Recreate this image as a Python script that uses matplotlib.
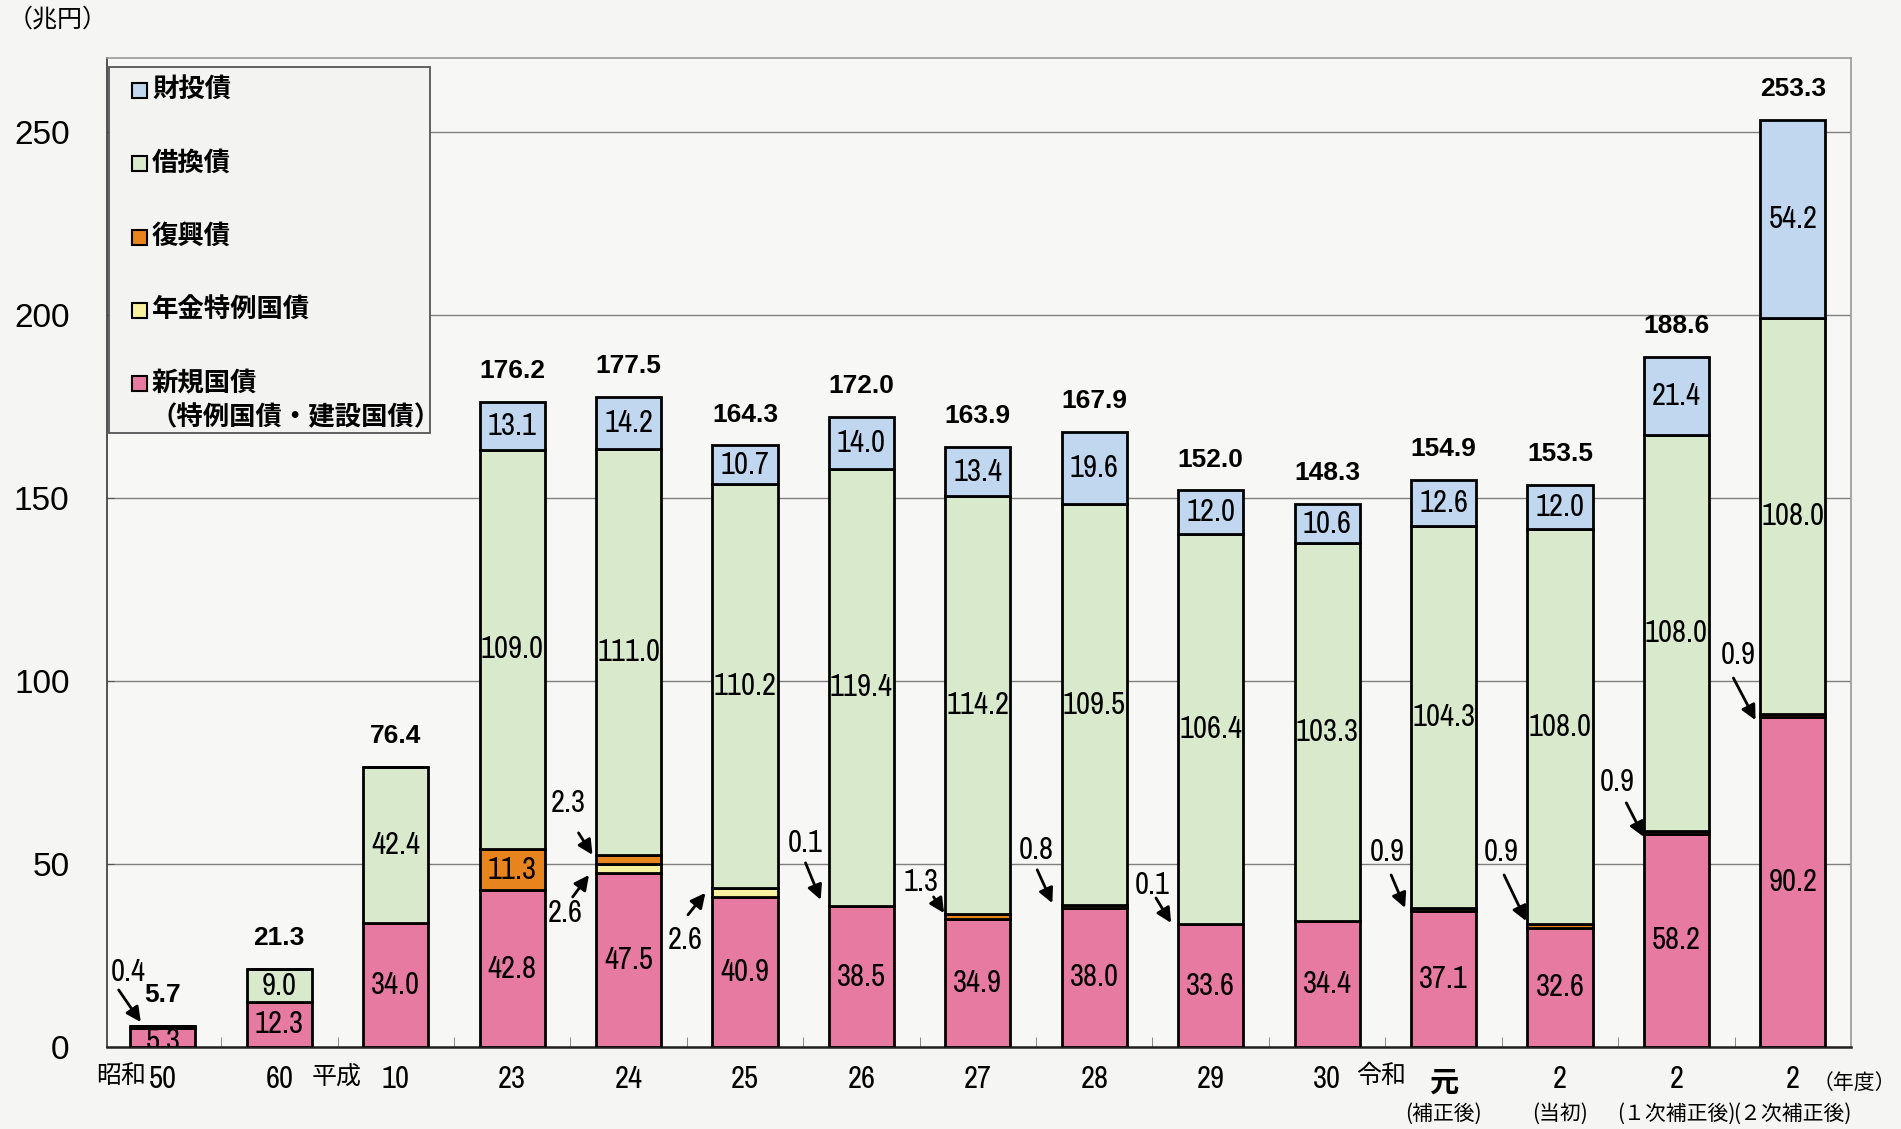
import numpy as np
import matplotlib
matplotlib.use('Agg')
import matplotlib.pyplot as plt
from matplotlib import font_manager
from matplotlib.patches import Rectangle

installed = {f.name for f in font_manager.fontManager.ttflist}
NUM = next((f for f in ['Liberation Sans Narrow', 'Archivo Narrow', 'Roboto Condensed']
            if f in installed), 'Liberation Sans')
JP = 'Noto Sans CJK JP'
plt.rcParams['font.family'] = [JP, 'DejaVu Sans']

# 年度ラベル
years = ['50', '60', '10', '23', '24', '25', '26', '27', '28', '29', '30', '元', '2', '2', '2']
notes = ['', '', '', '', '', '', '', '', '', '', '', '(補正後)', '(当初)', '(１次補正後)', '(２次補正後)']

# 発行額（兆円）
shinki = [5.3, 12.3, 34.0, 42.8, 47.5, 40.9, 38.5, 34.9, 38.0, 33.6, 34.4, 37.1, 32.6, 58.2, 90.2]
nenkin = [0, 0, 0, 0, 2.6, 2.6, 0, 0, 0, 0, 0, 0, 0, 0, 0]
fukko = [0, 0, 0, 11.3, 2.3, 0, 0.1, 1.3, 0.8, 0.1, 0, 0.9, 0.9, 0.9, 0.9]
karikae = [0.4, 9.0, 42.4, 109.0, 111.0, 110.2, 119.4, 114.2, 109.5, 106.4, 103.3, 104.3, 108.0, 108.0, 108.0]
zaito = [0, 0, 0, 13.1, 14.2, 10.7, 14.0, 13.4, 19.6, 12.0, 10.6, 12.6, 12.0, 21.4, 54.2]
totals = [5.7, 21.3, 76.4, 176.2, 177.5, 164.3, 172.0, 163.9, 167.9, 152.0, 148.3, 154.9, 153.5, 188.6, 253.3]

series = [
    ('新規国債', shinki, '#e77aa0'),
    ('年金特例国債', nenkin, '#f7f1a0'),
    ('復興債', fukko, '#e8841e'),
    ('借換債', karikae, '#d9eacc'),
    ('財投債', zaito, '#c0d7ef'),
]

# 小さい内訳は矢印で示す: (棒, 系列, 文字位置, 矢印の始点, 矢印の先)
callouts = [
    (0, 3, (-0.30, 20.5), (-0.38, 15.6), (-0.19, 6.8)),
    (4, 2, (3.48, 66.7), (3.57, 58.5), (3.69, 52.5)),
    (4, 1, (3.46, 36.6), (3.52, 41.0), (3.66, 47.0)),
    (5, 1, (4.49, 29.2), (4.51, 36.1), (4.66, 42.1)),
    (6, 2, (5.52, 55.7), (5.52, 50.3), (5.65, 40.2)),
    (7, 2, (6.51, 45.1), (6.62, 41.0), (6.71, 36.6)),
    (8, 2, (7.50, 53.8), (7.51, 48.4), (7.64, 39.3)),
    (9, 2, (8.50, 44.3), (8.53, 40.7), (8.66, 33.9)),
    (11, 2, (10.52, 53.3), (10.55, 47.0), (10.67, 38.0)),
    (12, 2, (11.50, 53.3), (11.52, 47.0), (11.71, 34.4)),
    (13, 2, (12.49, 72.4), (12.57, 66.7), (12.72, 57.4)),
    (14, 2, (13.53, 107.1), (13.49, 100.8), (13.68, 89.3)),
]

W, H = 1901, 1129
fig = plt.figure(figsize=(W / 100, H / 100), dpi=100, facecolor='#f5f5f3')
ax = fig.add_axes([107 / W, (H - 1047) / H, 1744 / W, 989 / H])
ax.set_facecolor('#f7f7f6')

x = np.arange(len(years))
bottom = np.zeros(len(years))
for k, (name, vals, col) in enumerate(series):
    vals = np.array(vals)
    ax.bar(x, vals, 0.56, bottom=bottom, color=col, edgecolor='black', linewidth=2, zorder=3)
    for i in range(len(x)):
        if vals[i] >= 5:
            yc = bottom[i] + vals[i] / 2
            if i == 0 and k == 0:
                yc = 1.6
            ax.text(x[i], yc, f'{vals[i]:.1f}', ha='center', va='center', fontsize=22,
                    family=NUM, zorder=5, clip_on=True)
    bottom += vals

for i, t in enumerate(totals):
    ax.text(x[i], t + 8.5, f'{t:.1f}', ha='center', va='center', fontsize=19,
            family='Liberation Sans', fontweight='bold', zorder=5)

for i, k, txy, tail, tip in callouts:
    v = series[k][1][i]
    ax.text(txy[0], txy[1], f'{v:.1f}', ha='center', va='center', fontsize=22, family=NUM, zorder=5)
    ax.annotate('', xy=tip, xytext=tail,
                arrowprops=dict(arrowstyle='-|>', color='black', lw=2, mutation_scale=22,
                                shrinkA=0, shrinkB=0), zorder=5)

ax.set_xlim(-0.48, 14.5)
ax.set_ylim(0, 270.2)
ax.set_yticks(range(0, 251, 50))
ax.set_yticklabels([str(v) for v in range(0, 251, 50)], family='Liberation Sans', fontsize=24)
ax.tick_params(axis='y', direction='in', length=5, pad=27, color='#555')
ax.set_xticks([])
ax.set_xticks(x[:-1] + 0.5, minor=True)
ax.tick_params(axis='x', which='minor', direction='in', length=7, color='#777')
ax.grid(axis='y', color='#808080', linewidth=1)
ax.set_axisbelow(True)
for s in ['top', 'right']:
    ax.spines[s].set_color('#999')
    ax.spines[s].set_linewidth(1.2)
ax.spines['left'].set_color('#444')
ax.spines['left'].set_linewidth(1.3)
ax.spines['bottom'].set_color('#222')
ax.spines['bottom'].set_linewidth(1.8)

# 横軸ラベル
for i, lab in enumerate(years):
    if lab == '元':
        ax.text(x[i], -9.6, lab, ha='center', va='center', fontsize=21, fontweight='bold',
                clip_on=False)
    else:
        ax.text(x[i], -8.7, lab, ha='center', va='center', fontsize=22, family=NUM,
                clip_on=False)
    if notes[i]:
        ax.text(x[i], -18.2, notes[i], ha='center', va='center', fontsize=15, clip_on=False)
for era, ex in [('昭和', -0.36), ('平成', 1.49), ('令和', 10.46)]:
    ax.text(ex, -8.0, era, ha='center', va='center', fontsize=18, clip_on=False)
fig.text(1896 / W, 1 - 1083 / H, '（年度）', ha='right', va='center', fontsize=15)
fig.text(58 / W, 1 - 20 / H, '（兆円）', ha='center', va='center', fontsize=18)

# 凡例
def ay(py):
    return (1047 - py) / 989

def axx(px):
    return (px - 107) / 1744

ax.add_patch(Rectangle((axx(109), ay(433)), axx(430) - axx(109), ay(67) - ay(433),
                       transform=ax.transAxes, facecolor='#f3f3f2', edgecolor='#555',
                       linewidth=1.3, zorder=6))
leg_rows = [(4, 90), (3, 163), (2, 237), (1, 310), (0, 383)]
for k, py in leg_rows:
    ax.add_patch(Rectangle((axx(132), ay(py + 7.5)), axx(147) - axx(132), ay(py - 7.5) - ay(py + 7.5),
                           transform=ax.transAxes, facecolor=series[k][2], edgecolor='black',
                           linewidth=1.5, zorder=7))
    ax.text(axx(152), ay(py), series[k][0], transform=ax.transAxes, ha='left', va='center',
            fontsize=19, fontweight='bold', zorder=7)
ax.text(axx(150), ay(418), '（特例国債・建設国債）', transform=ax.transAxes, ha='left',
        va='center', fontsize=19, fontweight='bold', zorder=7)

fig.savefig('out.png', dpi=100, facecolor=fig.get_facecolor())
